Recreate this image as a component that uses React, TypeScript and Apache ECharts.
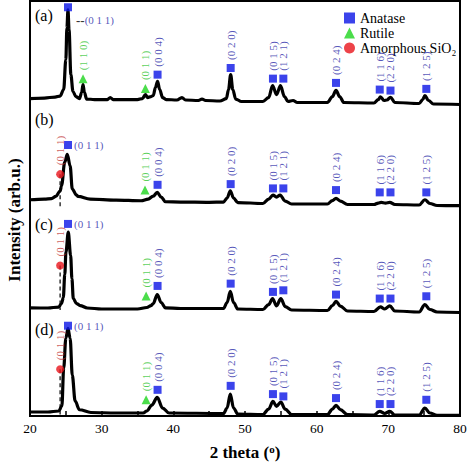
import React, { useEffect, useRef } from "react";
import * as echarts from "echarts";

// ---- data (2θ in degrees, intensity in arbitrary units, relative to each panel's offset) ----
const panelNames = ["(a)", "(b)", "(c)", "(d)"];
const panelOffsets = [3100, 2000, 1000, 0];

const patternA: [number, number][] = [
  [20.0, 90], [22.0, 95], [23.5, 105], [24.2, 115], [24.7, 180], [25.0, 480], [25.15, 800], [25.3, 980],
  [25.45, 780], [25.7, 330], [26.0, 160], [26.4, 110], [26.9, 90], [27.2, 150], [27.4, 230], [27.6, 150],
  [27.9, 85], [29.0, 80], [30.8, 80], [31.2, 100], [31.6, 80], [33.0, 80], [35.0, 80], [35.7, 90],
  [36.1, 130], [36.4, 100], [36.9, 110], [37.2, 120], [37.5, 200], [37.8, 263], [38.1, 180], [38.5, 100],
  [39.0, 80], [40.5, 75], [41.2, 100], [41.7, 75], [43.5, 70], [44.0, 85], [44.5, 70], [46.5, 65],
  [47.4, 90], [47.7, 180], [48.0, 330], [48.3, 180], [48.7, 85], [49.5, 60], [52.5, 60], [53.3, 100],
  [53.85, 220], [54.4, 130], [54.95, 220], [55.5, 110], [56.0, 60], [56.7, 70], [57.3, 50], [61.5, 50],
  [62.2, 110], [62.7, 173], [63.2, 110], [63.8, 50], [68.0, 45], [68.6, 80], [68.9, 107], [69.4, 70],
  [69.8, 75], [70.3, 103], [70.9, 50], [74.3, 40], [74.8, 80], [75.1, 120], [75.6, 70], [76.3, 35], [80.0, 30],
];
const patternB: [number, number][] = [
  [20.0, 173], [22.0, 180], [23.0, 185], [23.6, 207], [24.2, 260], [24.4, 313], [24.85, 550], [25.2, 630],
  [25.6, 513], [25.9, 280], [26.5, 220], [26.7, 207], [28.4, 180], [32.0, 170], [35.5, 163], [36.5, 180],
  [37.2, 210], [37.75, 247], [38.3, 200], [38.9, 153], [41.0, 150], [45.0, 147], [47.0, 150], [47.5, 190],
  [47.95, 263], [48.4, 190], [49.0, 145], [52.5, 135], [53.3, 180], [53.9, 220], [54.4, 200], [54.9, 220],
  [55.6, 160], [56.5, 130], [61.5, 130], [62.2, 165], [62.7, 187], [63.3, 160], [64.3, 125], [68.0, 125],
  [68.6, 140], [69.0, 147], [69.6, 140], [70.2, 147], [70.9, 125], [74.3, 120], [75.1, 173], [75.8, 135],
  [76.8, 115], [80.0, 113],
];
const patternC: [number, number][] = [
  [20.0, 87], [22.5, 85], [24.0, 95], [24.4, 130], [24.65, 190], [24.85, 420], [25.02, 650], [25.34, 847],
  [25.67, 613], [25.85, 380], [26.04, 180], [26.5, 130], [27.0, 110], [28.0, 85], [30.0, 75], [35.0, 75],
  [36.3, 90], [36.9, 110], [37.2, 130], [37.75, 220], [38.3, 140], [38.9, 87], [41.0, 80], [47.0, 80],
  [47.5, 140], [47.95, 253], [48.4, 140], [49.0, 75], [52.5, 70], [53.3, 120], [53.85, 180], [54.4, 107],
  [55.0, 180], [55.6, 100], [56.5, 65], [61.5, 60], [62.2, 110], [62.7, 153], [63.3, 105], [64.3, 55],
  [68.0, 50], [68.9, 97], [69.5, 75], [70.2, 107], [70.9, 55], [74.3, 45], [75.1, 120], [75.8, 70],
  [76.8, 45], [80.0, 40],
];
const patternD: [number, number][] = [
  [20.0, 40], [22.5, 40], [24.0, 50], [24.45, 100], [24.7, 480], [25.0, 780], [25.3, 880], [25.6, 780],
  [25.9, 410], [26.3, 150], [26.9, 63], [28.5, 35], [32.0, 30], [35.8, 30], [36.3, 50], [37.0, 110],
  [37.75, 187], [38.5, 80], [39.4, 30], [47.0, 25], [47.5, 80], [47.95, 220], [48.4, 80], [49.0, 20],
  [52.5, 15], [53.3, 70], [53.9, 147], [54.4, 97], [55.0, 140], [55.6, 70], [56.5, 15], [61.5, 13],
  [62.2, 70], [62.7, 107], [63.3, 65], [64.3, 13], [68.0, 10], [68.8, 47], [69.5, 25], [70.2, 47],
  [70.9, 10], [74.3, 10], [75.1, 80], [75.8, 30], [76.8, 7], [80.0, 7],
];
const patterns = [patternA, patternB, patternC, patternD];

// Anatase reflections
const anataseTheta = [25.3, 37.8, 48.0, 53.9, 55.35, 62.7, 68.8, 70.3, 75.3];
const anataseHkl = ["(0 1 1)", "(0 0 4)", "(0 2 0)", "(0 1 5)", "(1 2 1)", "(0 2 4)", "(1 1 6)", "(2 2 0)", "(1 2 5)"];
const anataseMarkA = [1007, 330, 397, 290, 290, 247, 180, 170, 187];
const anataseMarkB = [723, 323, 330, 287, 287, 270, 247, 247, 247];
const anataseMarkC = [930, 307, 330, 247, 263, 220, 180, 180, 203];
const anataseMarkD = [907, 263, 303, 220, 197, 180, 120, 120, 163];
const anataseMarks = [anataseMarkA, anataseMarkB, anataseMarkC, anataseMarkD];

// Rutile reflections per panel: [2θ, marker height, hkl]
const rutileA: [number, number, string][] = [[27.4, 290, "(1 1 0)"], [36.1, 190, "(0 1 1)"]];
const rutileB: [number, number, string][] = [[36.05, 270, "(0 1 1)"]];
const rutileC: [number, number, string][] = [[36.2, 207, "(0 1 1)"]];
const rutileD: [number, number, string][] = [[36.2, 163, "(0 1 1)"]];
const rutileMarks = [rutileA, rutileB, rutileC, rutileD];

// Amorphous SiO2 (panels b–d): marker height and dashed-drop bottom
const silicaTheta = 24.2;
const silicaHkl = "(0 1 1)";
const silicaMark = [null, 430, 513, 470];
const silicaDropTo = [null, 80, 65, 15];

const xTicks = { min: 20, max: 80, interval: 10 };

const FONT = "'Liberation Serif', 'DejaVu Serif', serif";
const BLUE = "#0a14e6";
const BLUE_TXT = "#2a2aa8";
const GREEN = "#1ed41e";
const GREEN_TXT = "#2fc42f";
const RED = "#e8141c";
const RED_TXT = "#c03434";

export default function App() {
  const ref = useRef<HTMLDivElement>(null);
  useEffect(() => {
    document.body.style.margin = "0";
    if (!ref.current) return;
    const chart = echarts.init(ref.current, null, { renderer: "svg" });

    const lineSeries = patterns.map((pts, p) => ({
      type: "line",
      name: "pattern" + panelNames[p],
      data: pts.map(([x, y]) => [x, y + panelOffsets[p]]),
      showSymbol: false,
      smooth: 0.35,
      smoothMonotone: "x",
      lineStyle: { color: "#000", width: 3.2 },
      z: 2,
      silent: true,
    }));

    const dropSeries = silicaMark
      .map((h, p) =>
        h == null
          ? null
          : {
              type: "line",
              name: "drop" + p,
              data: [
                [silicaTheta, h + panelOffsets[p]],
                [silicaTheta, (silicaDropTo[p] as number) + panelOffsets[p]],
              ],
              showSymbol: false,
              lineStyle: { color: "#000", width: 1.2, type: [4, 3] },
              z: 3,
              silent: true,
            }
      )
      .filter(Boolean);

    const anataseData = anataseMarks.flatMap((hs, p) =>
      hs.map((h, i) => {
        const item: any = { value: [anataseTheta[i], h + panelOffsets[p]], name: anataseHkl[i] };
        if (i === 0) {
          item.label =
            p === 0
              ? {
                  position: "right",
                  rotate: 0,
                  align: "left",
                  verticalAlign: "middle",
                  offset: [0, 13],
                  formatter: "{d|--}{t|" + anataseHkl[i] + "}",
                }
              : { position: "right", rotate: 0, align: "left", verticalAlign: "middle", distance: 2 };
        }
        return item;
      })
    );

    const rutileData = rutileMarks.flatMap((list, p) =>
      list.map(([t, h, hkl]) => ({ value: [t, h + panelOffsets[p]], name: hkl }))
    );

    const silicaData = silicaMark
      .map((h, p) => (h == null ? null : { value: [silicaTheta, h + panelOffsets[p]], name: silicaHkl }))
      .filter(Boolean);

    const vLabel = (color: string, dist: number) => ({
      show: true,
      position: "top",
      rotate: 90,
      align: "left",
      verticalAlign: "middle",
      distance: dist,
      formatter: "{b}",
      color,
      fontSize: 11,
      fontFamily: FONT,
      rich: {
        d: { color: "#000", fontSize: 13, fontWeight: "bold", fontFamily: FONT },
        t: { color, fontSize: 11, fontFamily: FONT },
      },
    });

    const option: any = {
      animation: false,
      grid: {
        left: 30,
        right: 14,
        top: 1,
        bottom: 48,
        show: true,
        borderColor: "#000",
        borderWidth: 2,
        backgroundColor: "transparent",
      },
      legend: {
        data: ["Anatase", "Rutile", "Amorphous SiO₂"],
        orient: "vertical",
        left: 339,
        top: 6,
        itemWidth: 11,
        itemHeight: 11,
        itemGap: 1,
        textStyle: { color: "#000", fontSize: 14, fontFamily: FONT, lineHeight: 14 },
        selectedMode: false,
      },
      xAxis: {
        type: "value",
        min: xTicks.min,
        max: xTicks.max,
        interval: xTicks.interval,
        name: "2 theta ({s|o})",
        nameLocation: "middle",
        nameGap: 27,
        nameTextStyle: {
          color: "#000",
          fontSize: 17,
          fontWeight: "bold",
          fontFamily: FONT,
          rich: { s: { fontSize: 11, fontWeight: "bold", fontFamily: FONT, verticalAlign: "top", padding: [0, 0, 8, 0] } },
        },
        axisLine: { lineStyle: { color: "#000", width: 2 } },
        axisTick: { inside: true, length: 5, lineStyle: { color: "#000", width: 1.5 } },
        minorTick: { show: true, splitNumber: 2, length: 5, lineStyle: { color: "#000", width: 1.5 } },
        axisLabel: { color: "#000", fontSize: 13.5, fontFamily: FONT, margin: 5 },
        splitLine: { show: false },
      },
      yAxis: {
        type: "value",
        min: 0,
        max: 4170,
        show: false,
      },
      series: [
        ...lineSeries,
        ...dropSeries,
        {
          type: "scatter",
          name: "Anatase",
          symbol: "rect",
          symbolSize: 8,
          itemStyle: { color: BLUE },
          data: anataseData,
          label: vLabel(BLUE_TXT, 4),
          z: 5,
        },
        {
          type: "scatter",
          name: "Rutile",
          symbol: "triangle",
          symbolSize: 9,
          itemStyle: { color: GREEN },
          data: rutileData,
          label: vLabel(GREEN_TXT, 4),
          z: 5,
        },
        {
          type: "scatter",
          name: "Amorphous SiO₂",
          symbol: "circle",
          symbolSize: 8,
          itemStyle: { color: RED },
          data: silicaData,
          label: vLabel(RED_TXT, 5),
          z: 5,
        },
      ],
      graphic: [
        ...panelNames.map((n, p) => ({
          type: "text",
          left: 35,
          top: [7, 111, 216, 321][p],
          style: { text: n, fill: "#000", font: "16px " + FONT },
        })),
        {
          type: "text",
          x: 14,
          y: 220,
          rotation: Math.PI / 2,
          style: {
            text: "Intensity (arb.u.)",
            fill: "#000",
            font: "bold 17px " + FONT,
            textAlign: "center",
            textVerticalAlign: "middle",
          },
        },
      ],
    };
    chart.setOption(option);
    return () => chart.dispose();
  }, []);
  return <div ref={ref} style={{ width: 474, height: 466 }} />;
}
